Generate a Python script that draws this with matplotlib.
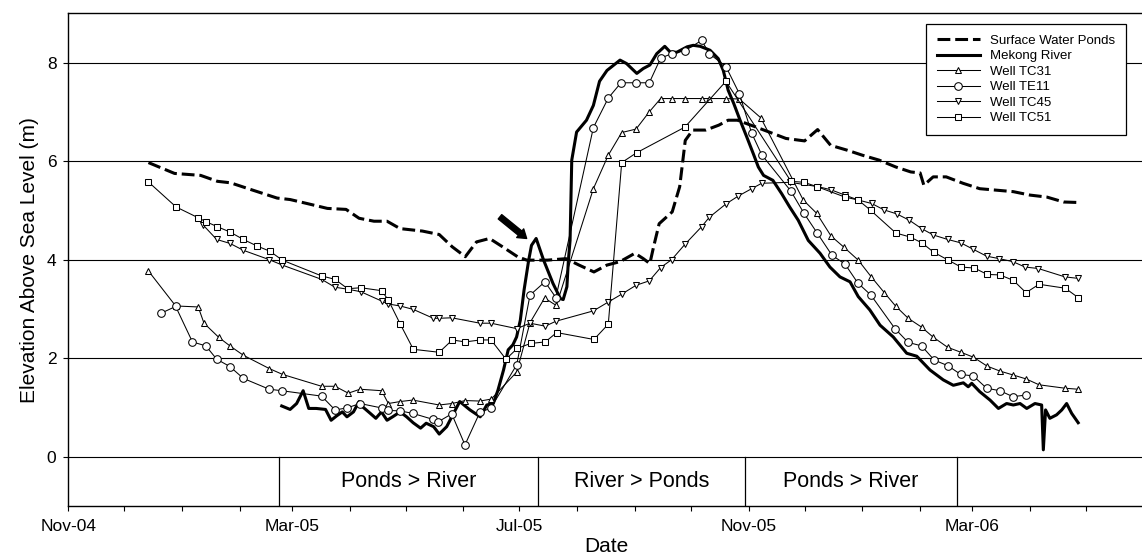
import numpy as np
import matplotlib
matplotlib.use("Agg")
import matplotlib.pyplot as plt
import matplotlib.dates as mdates
from datetime import datetime

plt.rcParams['font.family'] = ['Liberation Sans', 'DejaVu Sans']

# Day counters below are measured from this date
START = datetime(2004, 11, 1)
END = datetime(2006, 6, 1)

pond_day = [43, 57, 71, 80, 87, 99, 112, 119, 128, 139, 149, 156, 164, 171, 178,
            190, 199, 206, 213, 219, 226, 233, 241, 246, 257, 267, 274, 282, 289, 296,
            304, 308.5, 312, 314, 317, 324, 328, 331, 335, 342, 349, 354, 359, 364, 369,
            376, 385, 395, 402, 409, 418, 426, 435, 444, 452, 457, 459, 464, 471, 480,
            489, 498, 507, 516, 525, 534, 542]
pond_elev = [5.97, 5.75, 5.71, 5.59, 5.56, 5.41, 5.25, 5.22, 5.14, 5.04, 5.02, 4.84, 4.78, 4.78, 4.63,
             4.58, 4.51, 4.26, 4.06, 4.36, 4.43, 4.26, 4.06, 3.99, 3.99, 4.02, 3.89, 3.75, 3.89, 3.96,
             4.13, 4.02, 3.92, 4.26, 4.73, 4.97, 5.48, 6.42, 6.63, 6.63, 6.73, 6.83, 6.83, 6.76, 6.69,
             6.59, 6.46, 6.41, 6.64, 6.32, 6.22, 6.12, 6.02, 5.88, 5.78, 5.76, 5.51, 5.68, 5.68, 5.55,
             5.44, 5.41, 5.38, 5.31, 5.27, 5.17, 5.16]

river_day = [114.5, 119, 122.5, 126, 129, 133, 138, 141, 144, 147, 149.5, 153, 156, 158, 162,
             165, 168, 171, 174, 178, 181.5, 185, 189, 192, 196, 199, 203, 210, 215.5, 221,
             224.5, 228, 230.5, 233.5, 236, 238.5, 240.5, 242.5, 244.5, 247, 248.5, 251, 255, 260, 264,
             265.5, 267.5, 268.3, 269.2, 270.1, 272.7, 278, 281.7, 285, 289, 296, 299.5, 305, 308.5, 312,
             315.7, 320, 323, 326.5, 332, 335.3, 339, 344.3, 348.7, 351.4, 354, 357, 360.4, 364, 367.5,
             370.2, 373, 378, 382.7, 387, 391.6, 397, 403.3, 408.6, 414, 419.4, 423.8, 430, 435.5, 442.6,
             449.8, 455.2, 462.3, 469.4, 474.8, 480.2, 482.8, 484.7, 489, 494.5, 499, 503.4, 507, 510.6, 514.2,
             518.6, 522.2, 523.1, 524.3, 526.6, 530.2, 533, 535.6, 538.3, 541.8]
river_elev = [1.03, 0.96, 1.08, 1.34, 0.98, 0.98, 0.96, 0.74, 0.83, 0.91, 0.81, 0.91, 1.12, 1.01, 0.88,
              0.78, 0.91, 0.74, 0.81, 0.91, 0.81, 0.69, 0.58, 0.68, 0.61, 0.46, 0.61, 1.12, 0.95, 0.81,
              1.05, 1.08, 1.35, 1.76, 2.17, 2.27, 2.43, 2.77, 3.38, 3.99, 4.29, 4.43, 3.99, 3.52, 3.21,
              3.19, 3.45, 3.99, 4.39, 6.02, 6.59, 6.83, 7.13, 7.62, 7.84, 8.05, 7.98, 7.78, 7.88, 7.95,
              8.18, 8.33, 8.21, 8.21, 8.32, 8.35, 8.33, 8.25, 8.08, 7.84, 7.44, 7.17, 6.83, 6.49, 6.15,
              5.88, 5.71, 5.61, 5.34, 5.07, 4.80, 4.39, 4.13, 3.85, 3.65, 3.55, 3.25, 2.98, 2.67, 2.43,
              2.10, 2.04, 1.76, 1.56, 1.45, 1.50, 1.42, 1.49, 1.32, 1.15, 0.98, 1.08, 1.05, 1.08, 0.98,
              1.08, 1.05, 0.14, 0.95, 0.78, 0.85, 0.95, 1.08, 0.88, 0.69]

tc31_day = [43, 57.6, 69.7, 72.8, 80.8, 86.7, 93.9, 107.8, 115, 135.9, 143.1, 150.2, 156.5, 168.1, 171.7,
            178, 184.8, 199, 205.8, 213, 220.9, 226.9, 240.6, 247.7, 255.5, 261.8, 281.7, 289.7, 296.9, 304.6,
            311.7, 317.8, 323.7, 330.8, 339.8, 343.9, 352.8, 360, 371.5, 394.3, 401.5, 409.2, 416.2, 423.8, 430.8,
            437.8, 443.8, 450.6, 457.8, 463.9, 471.8, 478.9, 485.6, 492.9, 499.7, 506.8, 513.8, 520.8, 534.8, 541.8]
tc31_elev = [3.77, 3.06, 3.04, 2.71, 2.42, 2.25, 2.06, 1.79, 1.67, 1.43, 1.43, 1.29, 1.37, 1.34, 1.08,
             1.12, 1.15, 1.05, 1.08, 1.14, 1.13, 1.17, 1.72, 2.72, 3.22, 3.07, 5.44, 6.12, 6.58, 6.65,
             7.00, 7.27, 7.27, 7.27, 7.27, 7.27, 7.27, 7.26, 6.88, 5.21, 4.94, 4.48, 4.25, 3.99, 3.65,
             3.33, 3.06, 2.81, 2.63, 2.43, 2.22, 2.12, 2.02, 1.84, 1.74, 1.66, 1.58, 1.46, 1.39, 1.37]

te11_day = [49.6, 57.6, 66.6, 73.8, 79.6, 86.7, 93.9, 107.8, 114.5, 135.9, 143.1, 149.5, 156.5, 168.1, 171.7,
            178, 184.8, 195.5, 198.5, 205.7, 212.8, 220.9, 226.6, 240.6, 247.7, 255.7, 261.6, 281.7, 289.7, 296.5,
            304.6, 311.7, 317.8, 323.7, 330.8, 339.8, 343.9, 352.8, 360, 366.6, 372, 387.7, 394.7, 401.6, 409.7,
            416.7, 423.5, 430.6, 443.5, 450.6, 457.8, 464.6, 471.8, 478.8, 485.5, 492.7, 499.8, 506.7, 513.6]
te11_elev = [2.91, 3.05, 2.33, 2.25, 1.98, 1.83, 1.59, 1.37, 1.34, 1.23, 0.95, 0.99, 1.08, 0.99, 0.94,
             0.93, 0.88, 0.76, 0.71, 0.87, 0.24, 0.91, 0.98, 1.87, 3.28, 3.55, 3.23, 6.68, 7.28, 7.59,
             7.59, 7.59, 8.09, 8.18, 8.24, 8.45, 8.18, 7.92, 7.37, 6.57, 6.13, 5.39, 4.94, 4.55, 4.09,
             3.91, 3.53, 3.28, 2.60, 2.32, 2.25, 1.96, 1.85, 1.67, 1.64, 1.39, 1.34, 1.22, 1.25]

tc45_day = [72.4, 79.6, 86.7, 93.9, 107.8, 114.8, 135.9, 143.1, 149.9, 156.9, 168.1, 171.7, 178, 185.1, 195.8,
            198.9, 205.7, 220.9, 226.8, 240.6, 247.7, 255.9, 261.6, 281.7, 289.7, 296.9, 304.6, 311.7, 317.8, 323.7,
            330.8, 339.8, 343.9, 352.8, 359.4, 366.6, 372, 387.2, 402.4, 409, 416.7, 423.8, 431, 437.6, 444.4,
            451.2, 457.8, 464.1, 471.8, 478.9, 485.5, 492.7, 499.5, 506.7, 513.3, 520.4, 534.7, 541.8]
tc45_elev = [4.70, 4.41, 4.33, 4.19, 4.00, 3.89, 3.60, 3.44, 3.40, 3.35, 3.16, 3.10, 3.06, 2.99, 2.81,
             2.81, 2.82, 2.71, 2.71, 2.60, 2.71, 2.65, 2.75, 2.96, 3.14, 3.30, 3.48, 3.57, 3.84, 4.00,
             4.31, 4.67, 4.86, 5.13, 5.29, 5.44, 5.55, 5.57, 5.48, 5.42, 5.31, 5.21, 5.14, 5.01, 4.93,
             4.80, 4.63, 4.50, 4.41, 4.34, 4.21, 4.07, 4.02, 3.96, 3.85, 3.82, 3.65, 3.62]

tc51_day = [42.9, 57.8, 69.7, 73.9, 79.9, 86.8, 93.9, 101.1, 108.2, 114.8, 135.9, 143.1, 149.9, 156.9, 168.1,
            171.7, 178, 185.1, 199, 206, 213, 220.9, 226.8, 234.8, 240.9, 248.1, 255.9, 262, 282, 289.7,
            296.9, 304.9, 330.8, 352.8, 387.7, 394.7, 401.8, 416.7, 423.8, 430.5, 444, 451.6, 458, 464.3, 472.1,
            478.9, 486.1, 493, 499.8, 507, 513.8, 520.8, 534.9, 541.8]
tc51_elev = [5.58, 5.07, 4.85, 4.77, 4.67, 4.56, 4.41, 4.28, 4.17, 3.99, 3.67, 3.60, 3.41, 3.43, 3.37,
             3.18, 2.70, 2.18, 2.12, 2.37, 2.33, 2.37, 2.37, 1.98, 2.20, 2.30, 2.33, 2.52, 2.38, 2.69,
             5.97, 6.17, 6.69, 7.62, 5.59, 5.57, 5.48, 5.27, 5.21, 5.00, 4.54, 4.46, 4.34, 4.15, 3.99,
             3.85, 3.83, 3.70, 3.69, 3.58, 3.33, 3.50, 3.42, 3.23]

# Periods of flow direction shown in the strip below zero
period_edges = ["2005-02-22", "2005-07-11", "2005-10-30", "2006-02-21"]
period_labels = ["Ponds > River", "River > Ponds", "Ponds > River"]

# Arrow marking the early river rise (day, elevation)
arrow_tail = (231.6, 4.87)
arrow_head = (245.9, 4.43)

x0 = mdates.date2num(START)


def to_x(days):
    return x0 + np.asarray(days, dtype=float)


W, H = 1142, 558
fig = plt.figure(figsize=(W / 100, H / 100), dpi=100)
ax = fig.add_axes([68.3 / W, 52 / H, 1075.5 / W, 492.7 / H])

ax.set_xlim(mdates.date2num(START), mdates.date2num(END))
ax.set_ylim(-1, 9)

ax.plot(to_x(pond_day), pond_elev, color='black', lw=2.2, ls=(0, (4.2, 1.6)),
        label='Surface Water Ponds', zorder=4)
ax.plot(to_x(river_day), river_elev, color='black', lw=2.2, solid_joinstyle='round',
        label='Mekong River', zorder=4)

well_style = dict(color='black', lw=0.75, markerfacecolor='white', markeredgecolor='black',
                  markeredgewidth=0.75, zorder=5)
ax.plot(to_x(tc31_day), tc31_elev, marker='^', ms=5, label='Well TC31', **well_style)
ax.plot(to_x(te11_day), te11_elev, marker='o', ms=5.5, label='Well TE11', **well_style)
ax.plot(to_x(tc45_day), tc45_elev, marker='v', ms=5, label='Well TC45', **well_style)
ax.plot(to_x(tc51_day), tc51_elev, marker='s', ms=4, label='Well TC51', **well_style)

# Flow-direction strip
edges = [mdates.date2num(datetime.strptime(d, "%Y-%m-%d")) for d in period_edges]
for e in edges:
    ax.plot([e, e], [-1, 0], color='black', lw=0.9, zorder=3)
for a, b, lab in zip(edges[:-1], edges[1:], period_labels):
    ax.text((a + b) / 2, -0.5, lab, ha='center', va='center', fontsize=15.5)

ax.annotate('', xy=(x0 + arrow_head[0], arrow_head[1]), xytext=(x0 + arrow_tail[0], arrow_tail[1]),
            arrowprops=dict(facecolor='black', edgecolor='black', width=4.0, headwidth=8,
                            headlength=6, shrink=0), zorder=6)

# Axes styling
ax.set_yticks([0, 2, 4, 6, 8])
ax.yaxis.grid(True, color='black', lw=0.8)
ax.set_axisbelow(True)
ax.xaxis.set_major_locator(mdates.MonthLocator(bymonth=[3, 7, 11]))
ax.xaxis.set_minor_locator(mdates.MonthLocator())
ax.xaxis.set_major_formatter(mdates.DateFormatter('%b-%y'))
ax.tick_params(axis='both', which='both', direction='out', length=3.5, width=0.8,
               labelsize=12.5, color='black')
ax.tick_params(axis='x', pad=6)
ax.tick_params(axis='y', pad=5)
for side in ['left', 'bottom', 'top']:
    ax.spines[side].set_linewidth(1.0)
ax.spines['right'].set_visible(False)

ax.set_xlabel('Date', fontsize=15, labelpad=2)
ax.set_ylabel('Elevation Above Sea Level (m)', fontsize=15, labelpad=6)

leg = ax.legend(loc='upper right', bbox_to_anchor=((1125.7 - 68.3) / 1075.5, (506 - 24) / 492.7),
                borderaxespad=0, fontsize=9.5, frameon=True, fancybox=False, shadow=False,
                handlelength=3.3, handletextpad=0.75, labelspacing=0.25, borderpad=0.8,
                numpoints=1)
leg.get_frame().set_edgecolor('black')
leg.get_frame().set_linewidth(0.9)
leg.get_frame().set_alpha(1)
leg.set_zorder(10)

fig.savefig('out.png', dpi=100)
